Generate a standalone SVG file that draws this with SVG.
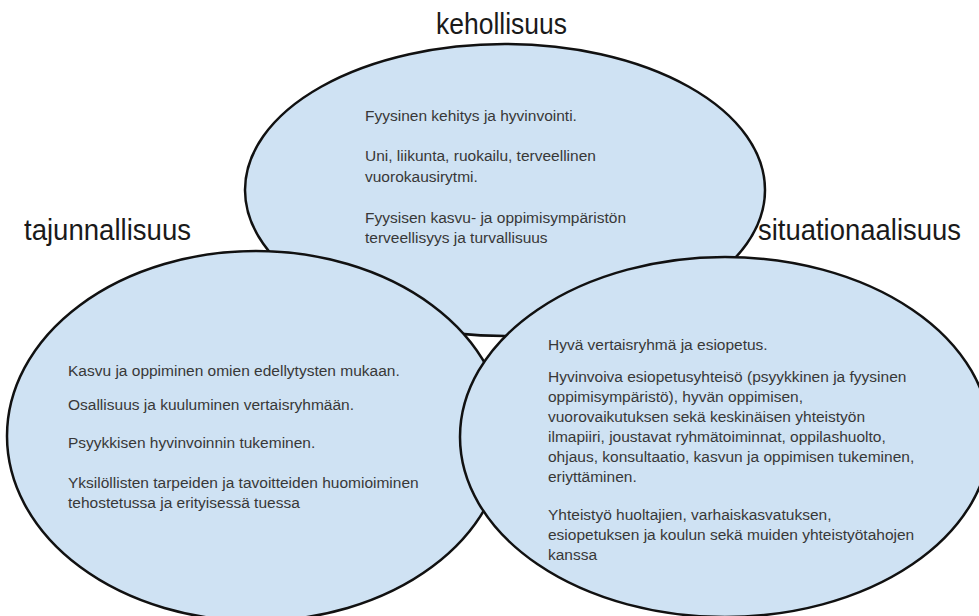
<svg xmlns="http://www.w3.org/2000/svg" width="979" height="616" viewBox="0 0 979 616">
  <style>
    .bubble { fill: #cfe2f3; stroke: #111111; stroke-width: 2.5; }
    .label { font-family: "Liberation Sans", Arial, sans-serif; font-size: 29px; fill: #1a1a1a; }
    .body { font-family: "Liberation Sans", Arial, sans-serif; font-size: 15.5px; fill: #383838; }
  </style>
  <rect width="979" height="616" fill="#ffffff"/>
  <g id="kehollisuus">
    <ellipse class="bubble" cx="505" cy="190" rx="260" ry="146"/>
    <text class="label" x="436" y="34" textLength="131" lengthAdjust="spacingAndGlyphs">kehollisuus</text>
    <text class="body" x="365" y="121">Fyysinen kehitys ja hyvinvointi.</text>
    <text class="body" x="365" y="161">Uni, liikunta, ruokailu, terveellinen</text>
    <text class="body" x="365" y="182">vuorokausirytmi.</text>
    <text class="body" x="365" y="223">Fyysisen kasvu- ja oppimisympäristön</text>
    <text class="body" x="365" y="243">terveellisyys ja turvallisuus</text>
  </g>
  <g id="tajunnallisuus">
    <ellipse class="bubble" cx="256" cy="436" rx="249" ry="185"/>
    <text class="label" x="24" y="240" textLength="167" lengthAdjust="spacingAndGlyphs">tajunnallisuus</text>
    <text class="body" x="68" y="376">Kasvu ja oppiminen omien edellytysten mukaan.</text>
    <text class="body" x="68" y="410">Osallisuus ja kuuluminen vertaisryhmään.</text>
    <text class="body" x="68" y="448">Psyykkisen hyvinvoinnin tukeminen.</text>
    <text class="body" x="68" y="488">Yksilöllisten tarpeiden ja tavoitteiden huomioiminen</text>
    <text class="body" x="68" y="508">tehostetussa ja erityisessä tuessa</text>
  </g>
  <g id="situationaalisuus">
    <ellipse class="bubble" cx="725" cy="437" rx="265" ry="180"/>
    <text class="label" x="758" y="240" textLength="203" lengthAdjust="spacingAndGlyphs">situationaalisuus</text>
    <text class="body" x="548" y="350">Hyvä vertaisryhmä ja esiopetus.</text>
    <text class="body" x="548" y="382">Hyvinvoiva esiopetusyhteisö (psyykkinen ja fyysinen</text>
    <text class="body" x="548" y="402">oppimisympäristö), hyvän oppimisen,</text>
    <text class="body" x="548" y="422">vuorovaikutuksen sekä keskinäisen yhteistyön</text>
    <text class="body" x="548" y="442">ilmapiiri, joustavat ryhmätoiminnat, oppilashuolto,</text>
    <text class="body" x="548" y="462">ohjaus, konsultaatio, kasvun ja oppimisen tukeminen,</text>
    <text class="body" x="548" y="482">eriyttäminen.</text>
    <text class="body" x="548" y="520">Yhteistyö huoltajien, varhaiskasvatuksen,</text>
    <text class="body" x="548" y="540">esiopetuksen ja koulun sekä muiden yhteistyötahojen</text>
    <text class="body" x="548" y="560">kanssa</text>
  </g>
  <g id="connectors"/>
</svg>
